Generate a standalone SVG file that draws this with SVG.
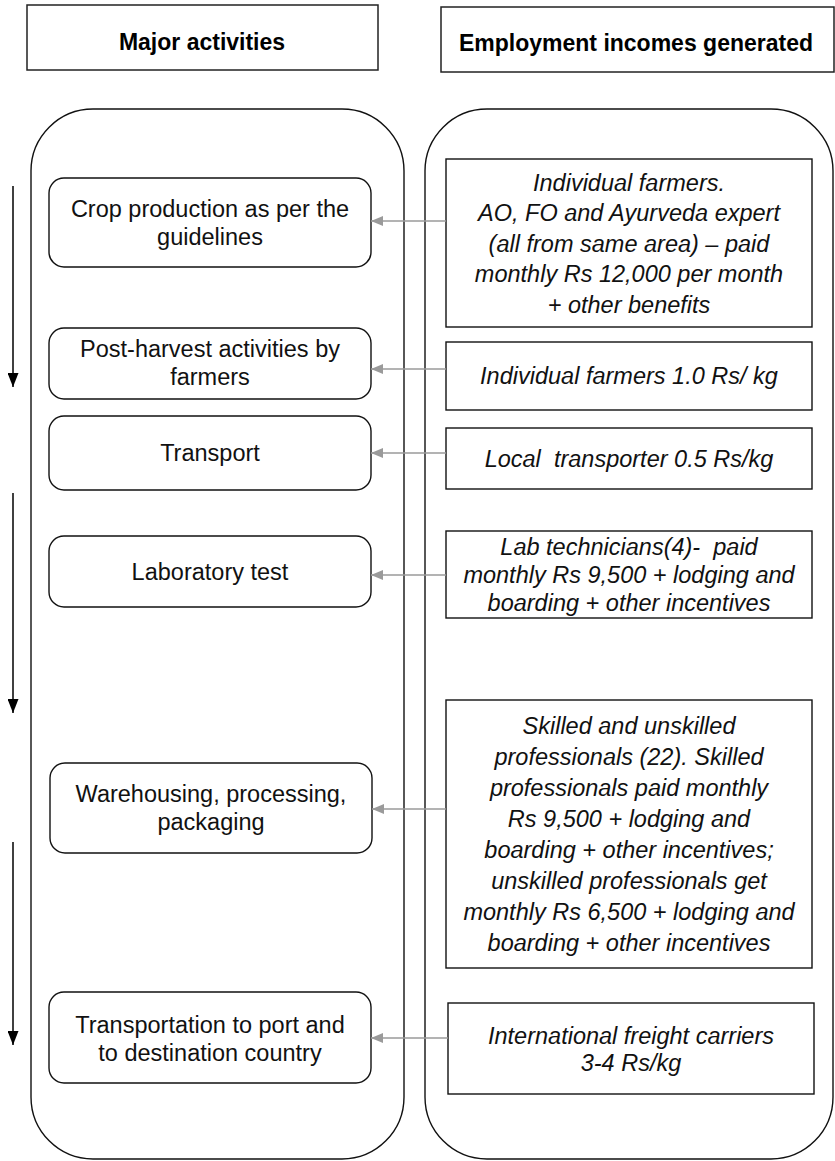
<svg xmlns="http://www.w3.org/2000/svg" width="835" height="1161" viewBox="0 0 835 1161">
  <defs>
    <style>
      .hdr { fill: #fff; stroke: #222; stroke-width: 1.5; }
      .lane { fill: none; stroke: #111; stroke-width: 1.4; }
      .act { fill: #fff; stroke: #111; stroke-width: 1.4; }
      .inc { fill: #fff; stroke: #111; stroke-width: 1.4; }
      .htxt { font-family: "Liberation Sans", Arial, sans-serif; font-size: 23px; font-weight: bold; fill: #000; text-anchor: middle; }
      .atxt { font-family: "Liberation Sans", Arial, sans-serif; font-size: 23.5px; fill: #111; text-anchor: middle; }
      .itxt { font-family: "Liberation Sans", Arial, sans-serif; font-size: 23.5px; font-style: italic; fill: #111; text-anchor: middle; }
      .link { stroke: #9a9a9a; stroke-width: 1.6; fill: none; }
      .flow { stroke: #000; stroke-width: 1.5; fill: none; }
    </style>
    <!-- grey head for the income-to-activity links -->
    <marker id="grayHead" viewBox="0 0 12 10" refX="12" refY="5" markerWidth="12" markerHeight="10" markerUnits="userSpaceOnUse" orient="auto">
      <path d="M0,0 L12,5 L0,10 Z" fill="#9a9a9a"/>
    </marker>
    <!-- black head for the sequence arrows on the left -->
    <marker id="blackHead" viewBox="0 0 14 11" refX="14" refY="5.5" markerWidth="14" markerHeight="11" markerUnits="userSpaceOnUse" orient="auto">
      <path d="M0,0 L14,5.5 L0,11 Z" fill="#000"/>
    </marker>
  </defs>

  <rect width="835" height="1161" fill="#fff"/>

  <!-- column headers -->
  <g id="header-activities">
    <rect class="hdr" x="27" y="5" width="351" height="65"/>
    <text class="htxt" x="202" y="50">Major activities</text>
  </g>
  <g id="header-incomes">
    <rect class="hdr" x="441" y="7" width="393" height="65"/>
    <text class="htxt" x="636" y="51">Employment incomes generated</text>
  </g>

  <!-- swimlanes -->
  <g id="lane-activities">
    <rect class="lane" x="31" y="109" width="373" height="1050" rx="62" ry="62"/>
  </g>
  <g id="lane-incomes">
    <rect class="lane" x="425" y="109" width="408" height="1050" rx="62" ry="62"/>
  </g>

  <!-- activity nodes -->
  <g id="act-crop">
    <rect class="act" x="49" y="178" width="322" height="89" rx="15"/>
    <text class="atxt" x="210" y="217">Crop production as per the</text>
    <text class="atxt" x="210" y="245">guidelines</text>
  </g>
  <g id="act-postharvest">
    <rect class="act" x="49" y="328" width="322" height="71" rx="15"/>
    <text class="atxt" x="210" y="357">Post-harvest activities by</text>
    <text class="atxt" x="210" y="385">farmers</text>
  </g>
  <g id="act-transport">
    <rect class="act" x="49" y="416" width="322" height="74" rx="15"/>
    <text class="atxt" x="210" y="461">Transport</text>
  </g>
  <g id="act-lab">
    <rect class="act" x="49" y="536" width="322" height="71" rx="15"/>
    <text class="atxt" x="210" y="580">Laboratory test</text>
  </g>
  <g id="act-warehouse">
    <rect class="act" x="50" y="763" width="322" height="90" rx="15"/>
    <text class="atxt" x="211" y="802">Warehousing, processing,</text>
    <text class="atxt" x="211" y="830">packaging</text>
  </g>
  <g id="act-export">
    <rect class="act" x="49" y="992" width="322" height="91" rx="15"/>
    <text class="atxt" x="210" y="1033">Transportation to port and</text>
    <text class="atxt" x="210" y="1061">to destination country</text>
  </g>

  <!-- income nodes -->
  <g id="inc-crop">
    <rect class="inc" x="446" y="159" width="366" height="168"/>
    <text class="itxt" x="629" y="191">Individual farmers.</text>
    <text class="itxt" x="629" y="221">AO, FO and Ayurveda expert</text>
    <text class="itxt" x="629" y="252">(all from same area) – paid</text>
    <text class="itxt" x="629" y="282">monthly Rs 12,000 per month</text>
    <text class="itxt" x="629" y="313">+ other benefits</text>
  </g>
  <g id="inc-postharvest">
    <rect class="inc" x="446" y="342" width="366" height="68"/>
    <text class="itxt" x="629" y="384">Individual farmers 1.0 Rs/ kg</text>
  </g>
  <g id="inc-transport">
    <rect class="inc" x="446" y="428" width="366" height="61"/>
    <text class="itxt" x="629" y="467" xml:space="preserve">Local  transporter 0.5 Rs/kg</text>
  </g>
  <g id="inc-lab">
    <rect class="inc" x="446" y="531" width="366" height="87"/>
    <text class="itxt" x="629" y="555" xml:space="preserve">Lab technicians(4)-  paid</text>
    <text class="itxt" x="629" y="583">monthly Rs 9,500 + lodging and</text>
    <text class="itxt" x="629" y="611">boarding + other incentives</text>
  </g>
  <g id="inc-warehouse">
    <rect class="inc" x="446" y="700" width="366" height="268"/>
    <text class="itxt" x="629" y="734">Skilled and unskilled</text>
    <text class="itxt" x="629" y="765">professionals (22). Skilled</text>
    <text class="itxt" x="629" y="796">professionals paid monthly</text>
    <text class="itxt" x="629" y="827">Rs 9,500 + lodging and</text>
    <text class="itxt" x="629" y="858">boarding + other incentives;</text>
    <text class="itxt" x="629" y="889">unskilled professionals get</text>
    <text class="itxt" x="629" y="920">monthly Rs 6,500 + lodging and</text>
    <text class="itxt" x="629" y="951">boarding + other incentives</text>
  </g>
  <g id="inc-export">
    <rect class="inc" x="448" y="1003" width="366" height="91"/>
    <text class="itxt" x="631" y="1044">International freight carriers</text>
    <text class="itxt" x="631" y="1071">3-4 Rs/kg</text>
  </g>

  <!-- connectors -->
  <g id="connectors">
    <line class="link" x1="446" y1="221" x2="371" y2="221" marker-end="url(#grayHead)"/>
    <line class="link" x1="446" y1="369" x2="371" y2="369" marker-end="url(#grayHead)"/>
    <line class="link" x1="446" y1="453" x2="371" y2="453" marker-end="url(#grayHead)"/>
    <line class="link" x1="446" y1="575" x2="371" y2="575" marker-end="url(#grayHead)"/>
    <line class="link" x1="446" y1="809" x2="372" y2="809" marker-end="url(#grayHead)"/>
    <line class="link" x1="448" y1="1038" x2="371" y2="1038" marker-end="url(#grayHead)"/>

    <line class="flow" x1="13" y1="186" x2="13" y2="387" marker-end="url(#blackHead)"/>
    <line class="flow" x1="13" y1="493" x2="13" y2="713" marker-end="url(#blackHead)"/>
    <line class="flow" x1="13" y1="842" x2="13" y2="1045" marker-end="url(#blackHead)"/>
  </g>
</svg>
